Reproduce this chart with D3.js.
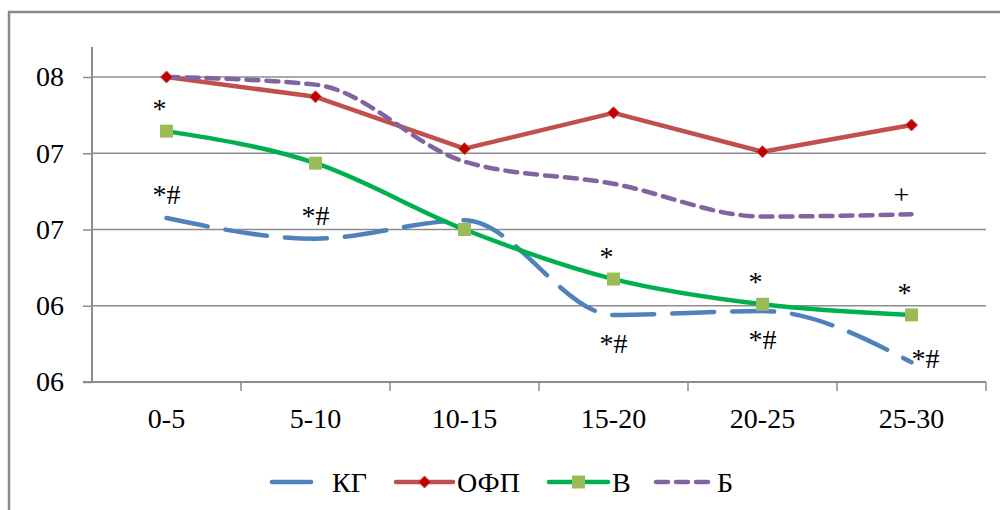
<!DOCTYPE html>
<html>
<head>
<meta charset="utf-8">
<script src="https://cdn.jsdelivr.net/npm/d3@7"></script>
<style>
  body { margin: 0; background: #fff; }
  svg text { font-family: "Liberation Serif", "Times New Roman", serif; fill: #000; }
</style>
</head>
<body>
<div id="chart"></div>
<script>
// categories and series
const categories = ["0-5", "5-10", "10-15", "15-20", "20-25", "25-30"];
const kg   = [70.75, 69.4, 70.6, 64.4, 64.65, 61.3];   // КГ
const ofp  = [80.0, 78.7, 75.3, 77.65, 75.1, 76.85];   // ОФП
const v    = [76.45, 74.35, 70.0, 66.75, 65.1, 64.4];  // В
const b    = [80.0, 79.5, 74.45, 73.0, 70.85, 71.0];   // Б

const tickValues = [60, 65, 70, 75, 80];
const tickLabels = ["06", "06", "07", "07", "08"];

// significance marks: series, category index, text
const marks = [
  ["В", 0, "*"], ["КГ", 0, "*#"],
  ["КГ", 1, "*#"],
  ["В", 3, "*"], ["КГ", 3, "*#"],
  ["В", 4, "*"], ["КГ", 4, "*#"],
  ["В", 5, "*"], ["КГ", 5, "*#"],
  ["Б", 5, "+"]
];

const series = [
  { name: "КГ",  values: kg,  color: "#4f81bd", dash: "42,18", marker: null, smooth: true },
  { name: "ОФП", values: ofp, color: "#c0504d", dash: null,    marker: "diamond", smooth: false },
  { name: "В",   values: v,   color: "#00b050", dash: null,    marker: "square", smooth: true },
  { name: "Б",   values: b,   color: "#8064a2", dash: "12,8",  marker: null, smooth: true }
];

const W = 1000, H = 510;
const margin = { top: 47, right: 14, bottom: 128, left: 92 };
const width = W - margin.left - margin.right;
const height = H - margin.top - margin.bottom;
const fontSize = 28;

const svg = d3.select("#chart").append("svg")
  .attr("width", W).attr("height", H);

// outer chart frame (only top and left edges visible)
svg.append("rect")
  .attr("x", 9).attr("y", 12)
  .attr("width", 1100).attr("height", 600)
  .attr("fill", "none").attr("stroke", "#8a8a8a").attr("stroke-width", 2.5);

const g = svg.append("g").attr("transform", `translate(${margin.left},${margin.top})`);

const x = d3.scaleBand().domain(categories).range([0, width]);
const y = d3.scaleLinear().domain([60, 80]).range([height, height - 305]);

// gridlines
g.append("g")
  .selectAll("line")
  .data(tickValues.slice(1))
  .join("line")
  .attr("x1", 0).attr("x2", width)
  .attr("y1", d => y(d)).attr("y2", d => y(d))
  .attr("stroke", "#8c8c8c").attr("stroke-width", 1.5);

// y axis
const yAxis = d3.axisLeft(y)
  .tickValues(tickValues)
  .tickFormat((d, i) => tickLabels[i])
  .tickSize(9)
  .tickPadding(19);
const yAxisEl = g.append("g").call(yAxis);
yAxisEl.select(".domain")
  .attr("d", `M0,0V${height}`)
  .attr("stroke", "#8c8c8c").attr("stroke-width", 2);
yAxisEl.selectAll(".tick line").attr("stroke", "#8c8c8c").attr("stroke-width", 1.5);
yAxisEl.selectAll(".tick text").attr("font-size", fontSize)
  .style("font-family", "'Liberation Serif', serif");

// x axis
const xAxisEl = g.append("g").attr("transform", `translate(0,${height})`);
xAxisEl.append("line")
  .attr("x1", -9).attr("x2", width)
  .attr("stroke", "#8c8c8c").attr("stroke-width", 2);
xAxisEl.selectAll(".sep")
  .data(d3.range(1, categories.length + 1))
  .join("line")
  .attr("class", "sep")
  .attr("x1", i => i * x.bandwidth()).attr("x2", i => i * x.bandwidth())
  .attr("y1", 0).attr("y2", 9)
  .attr("stroke", "#8c8c8c").attr("stroke-width", 1.5);
xAxisEl.selectAll(".lbl")
  .data(categories)
  .join("text")
  .attr("class", "lbl")
  .attr("x", d => x(d) + x.bandwidth() / 2)
  .attr("y", 46)
  .attr("text-anchor", "middle")
  .attr("font-size", fontSize)
  .text(d => d);

const cx = i => x(categories[i]) + x.bandwidth() / 2;

// lines
series.forEach(s => {
  const line = d3.line()
    .x((d, i) => cx(i))
    .y(d => y(d))
    .curve(s.smooth ? d3.curveMonotoneX : d3.curveLinear);
  g.append("path")
    .datum(s.values)
    .attr("d", line)
    .attr("fill", "none")
    .attr("stroke", s.color)
    .attr("stroke-width", 4.5)
    .attr("stroke-linecap", "round")
    .attr("stroke-linejoin", "round")
    .attr("stroke-dasharray", s.dash);
});

// markers
function drawMarker(sel, type, px, py) {
  if (type === "diamond") {
    sel.append("path")
      .attr("d", `M${px},${py - 6}L${px + 6},${py}L${px},${py + 6}L${px - 6},${py}Z`)
      .attr("fill", "#c00000").attr("stroke", "#c0504d").attr("stroke-width", 1);
  } else if (type === "square") {
    sel.append("rect")
      .attr("x", px - 6.5).attr("y", py - 6.5)
      .attr("width", 13).attr("height", 13)
      .attr("fill", "#9bbb59");
  }
}
series.filter(s => s.marker).forEach(s => {
  s.values.forEach((val, i) => drawMarker(g, s.marker, cx(i), y(val)));
});

// significance marks
const byName = {};
series.forEach(s => byName[s.name] = s);
const markOffset = { "В": [-7, -13], "Б": [-10, -10] };
g.selectAll(".mark")
  .data(marks)
  .join("text")
  .attr("class", "mark")
  .attr("x", d => {
    if (d[2] === "*#") return cx(d[1]) + (d[1] === 5 ? 14 : 0);
    return cx(d[1]) + markOffset[d[0]][0];
  })
  .attr("y", d => {
    const val = byName[d[0]].values[d[1]];
    if (d[2] === "*#") {
      // above for first two categories, below later on, beside at the end
      if (d[1] < 2) return y(val) - 14;
      if (d[1] === 5) return y(val) + 6;
      return y(val) + 38;
    }
    return y(val) + markOffset[d[0]][1];
  })
  .attr("text-anchor", "middle")
  .attr("font-size", fontSize)
  .text(d => d[2]);

// legend
const legend = svg.append("g").attr("transform", "translate(0,482)");
const legendItems = [
  { s: series[0], x0: 272, x1: 311, tx: 332 },
  { s: series[1], x0: 396, x1: 453, tx: 457 },
  { s: series[2], x0: 549, x1: 608, tx: 612 },
  { s: series[3], x0: 656, x1: 712, tx: 717 }
];
legendItems.forEach(it => {
  legend.append("line")
    .attr("x1", it.x0).attr("x2", it.x1)
    .attr("stroke", it.s.color).attr("stroke-width", 4.5)
    .attr("stroke-linecap", "round")
    .attr("stroke-dasharray", it.s.name === "Б" ? "12,8" : null);
  drawMarker(legend, it.s.marker, (it.x0 + it.x1) / 2, 0);
  legend.append("text")
    .attr("x", it.tx).attr("y", 10)
    .attr("font-size", fontSize)
    .text(it.s.name);
});
</script>
</body>
</html>
